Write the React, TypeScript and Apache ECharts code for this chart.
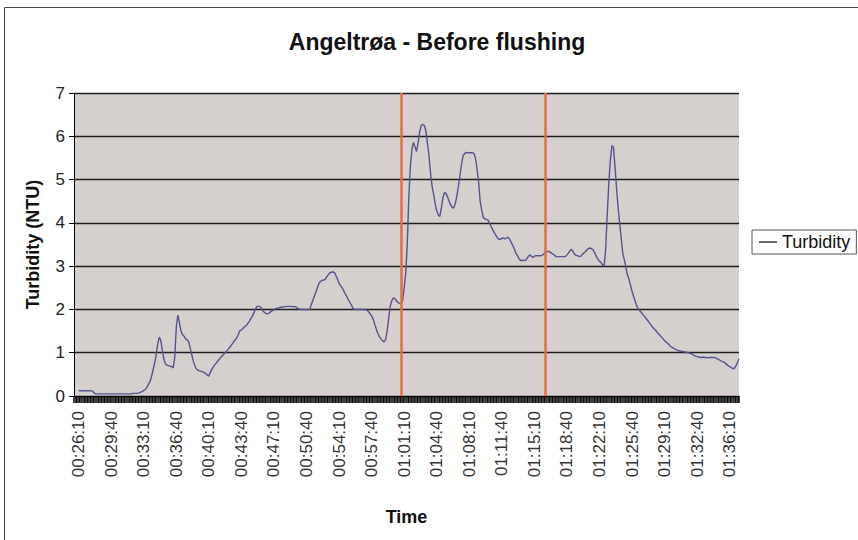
import React, { useEffect, useRef } from "react";
import * as echarts from "echarts";

const chartTitle = "Angeltrøa - Before flushing";
const seriesName = "Turbidity";
const startTime = "00:26:10";
const stepSeconds = 10;
const labelEvery = 21;
const flushMarkers = ["01:00:50", "01:16:20"];

const turbidity = [
  0.12, 0.12, 0.12, 0.12, 0.12, 0.12, 0.12, 0.12, 0.12, 0.11,
  0.07, 0.05, 0.05, 0.05, 0.05, 0.05, 0.05, 0.05, 0.05, 0.05,
  0.05, 0.05, 0.05, 0.05, 0.05, 0.05, 0.05, 0.05, 0.05, 0.05,
  0.05, 0.05, 0.05, 0.05, 0.05, 0.06, 0.06, 0.06, 0.06, 0.07,
  0.09, 0.10, 0.13, 0.15, 0.20, 0.27, 0.33, 0.45, 0.60, 0.75,
  0.95, 1.20, 1.36, 1.28, 1.05, 0.85, 0.74, 0.71, 0.70, 0.69,
  0.68, 0.65, 0.90, 1.60, 1.87, 1.70, 1.50, 1.42, 1.38, 1.32,
  1.30, 1.25, 1.10, 0.95, 0.80, 0.70, 0.62, 0.60, 0.58, 0.57,
  0.56, 0.54, 0.52, 0.48, 0.46, 0.55, 0.62, 0.68, 0.73, 0.77,
  0.82, 0.86, 0.90, 0.94, 0.98, 1.02, 1.06, 1.10, 1.15, 1.20,
  1.25, 1.30, 1.34, 1.42, 1.51, 1.53, 1.56, 1.60, 1.62, 1.67,
  1.72, 1.78, 1.84, 1.92, 2.00, 2.07, 2.07, 2.07, 2.02, 1.96,
  1.93, 1.90, 1.90, 1.92, 1.95, 1.97, 1.99, 2.02, 2.03, 2.03,
  2.05, 2.05, 2.06, 2.06, 2.07, 2.07, 2.07, 2.07, 2.06, 2.07,
  2.06, 2.03, 2.01, 2.00, 2.00, 2.00, 2.00, 2.00, 1.99, 2.00,
  2.10, 2.20, 2.30, 2.40, 2.50, 2.60, 2.65, 2.67, 2.68, 2.69,
  2.75, 2.80, 2.84, 2.86, 2.87, 2.85, 2.78, 2.70, 2.60, 2.55,
  2.50, 2.43, 2.36, 2.30, 2.22, 2.16, 2.10, 2.02, 2.00, 2.00,
  2.00, 2.00, 2.00, 2.00, 2.00, 2.00, 1.98, 1.95, 1.90, 1.85,
  1.78, 1.66, 1.55, 1.45, 1.37, 1.32, 1.28, 1.25, 1.30, 1.50,
  1.80, 2.07, 2.20, 2.27, 2.25, 2.20, 2.16, 2.14, 2.13, 2.20,
  2.50, 2.85, 3.50, 4.60, 5.30, 5.70, 5.86, 5.75, 5.65, 5.85,
  6.10, 6.25, 6.28, 6.25, 6.12, 5.85, 5.55, 5.15, 4.85, 4.65,
  4.45, 4.28, 4.18, 4.15, 4.35, 4.58, 4.70, 4.68, 4.60, 4.50,
  4.42, 4.35, 4.35, 4.45, 4.62, 4.85, 5.10, 5.35, 5.55, 5.60,
  5.63, 5.62, 5.62, 5.62, 5.62, 5.60, 5.50, 5.25, 4.95, 4.50,
  4.30, 4.12, 4.10, 4.08, 4.07, 4.00, 3.92, 3.85, 3.78, 3.72,
  3.66, 3.62, 3.62, 3.64, 3.65, 3.63, 3.65, 3.67, 3.62, 3.55,
  3.48, 3.40, 3.30, 3.25, 3.18, 3.13, 3.13, 3.14, 3.13, 3.16,
  3.22, 3.26, 3.23, 3.20, 3.23, 3.24, 3.24, 3.24, 3.24, 3.25,
  3.28, 3.32, 3.33, 3.34, 3.33, 3.30, 3.28, 3.25, 3.22, 3.22,
  3.22, 3.22, 3.22, 3.22, 3.22, 3.26, 3.30, 3.36, 3.39, 3.33,
  3.27, 3.25, 3.24, 3.22, 3.23, 3.27, 3.31, 3.34, 3.38, 3.41,
  3.42, 3.40, 3.37, 3.30, 3.22, 3.16, 3.12, 3.08, 3.03, 3.00,
  3.40, 4.20, 4.90, 5.45, 5.78, 5.75, 5.30, 4.80, 4.35, 4.00,
  3.65, 3.30, 3.15, 2.98, 2.80, 2.70, 2.56, 2.42, 2.30, 2.20,
  2.08, 2.02, 1.97, 1.93, 1.88, 1.84, 1.79, 1.75, 1.70, 1.65,
  1.60, 1.56, 1.53, 1.48, 1.44, 1.40, 1.36, 1.32, 1.28, 1.25,
  1.22, 1.18, 1.14, 1.12, 1.10, 1.08, 1.06, 1.05, 1.04, 1.03,
  1.03, 1.02, 1.01, 1.00, 0.99, 0.98, 0.96, 0.94, 0.92, 0.91,
  0.90, 0.89, 0.89, 0.90, 0.89, 0.89, 0.88, 0.89, 0.89, 0.89,
  0.89, 0.88, 0.86, 0.84, 0.82, 0.80, 0.79, 0.76, 0.73, 0.70,
  0.68, 0.66, 0.63, 0.64, 0.70, 0.77, 0.86,
];

function toSeconds(t: string): number {
  const [h, m, s] = t.split(":").map(Number);
  return h * 3600 + m * 60 + s;
}
function fmt(sec: number): string {
  const p = (n: number) => String(n).padStart(2, "0");
  return `${p(Math.floor(sec / 3600))}:${p(Math.floor((sec % 3600) / 60))}:${p(sec % 60)}`;
}
const t0 = toSeconds(startTime);
const categories = turbidity.map((_, i) => fmt(t0 + i * stepSeconds));

const FONT = "Liberation Sans, Arial, sans-serif";
const LINE_COLOR = "#53538f";

export default function App() {
  const ref = useRef<HTMLDivElement>(null);
  useEffect(() => {
    if (!ref.current) return;
    const chart = echarts.init(ref.current, undefined, { renderer: "svg" });
    chart.setOption({
      animation: false,
      backgroundColor: "#ffffff",
      textStyle: { fontFamily: FONT },
      title: {
        text: chartTitle,
        left: 432,
        top: 25,
        textAlign: "center",
        textStyle: { fontFamily: FONT, fontSize: 23, fontWeight: "bold", color: "#111" },
      },
      graphic: [
        {
          type: "rect",
          silent: true,
          shape: { x: 4.5, y: 7.5, width: 900, height: 600 },
          style: { fill: "none", stroke: "#444", lineWidth: 1 },
        },
      ],
      legend: {
        data: [seriesName],
        left: 752,
        top: 230,
        orient: "vertical",
        padding: [2, 6, 2, 7],
        borderColor: "#555",
        borderWidth: 1,
        icon: "rect",
        itemWidth: 18,
        itemHeight: 1.5,
        itemGap: 4,
        itemStyle: { color: "#333" },
        textStyle: { fontFamily: FONT, fontSize: 18, color: "#111", padding: [0, 0, 0, 0], lineHeight: 20 },
      },
      grid: { left: 74, top: 93, width: 665, height: 303, show: true, backgroundColor: "#D5D0CD", borderWidth: 0 },
      xAxis: {
        type: "category",
        data: categories,
        boundaryGap: false,
        min: -3,
        name: "Time",
        nameLocation: "middle",
        nameGap: 112,
        nameTextStyle: { fontFamily: FONT, fontSize: 18, fontWeight: "bold", color: "#111" },
        axisLine: { show: true, lineStyle: { color: "#000", width: 1 } },
        axisTick: { show: true, interval: 0, length: 7, lineStyle: { color: "#000", width: 1.5 } },
        axisLabel: {
          rotate: 90,
          margin: 15,
          fontFamily: FONT,
          fontSize: 17,
          color: "#333",
          interval: (index: number) => index >= 0 && index % labelEvery === 0,
        },
        splitLine: { show: false },
      },
      yAxis: {
        type: "value",
        min: 0,
        max: 7,
        interval: 1,
        name: "Turbidity (NTU)",
        nameLocation: "middle",
        nameGap: 32,
        nameTextStyle: { fontFamily: FONT, fontSize: 18, fontWeight: "bold", color: "#111" },
        axisLine: { show: true, lineStyle: { color: "#000", width: 1 } },
        axisTick: { show: true, length: 5, lineStyle: { color: "#000" } },
        axisLabel: { margin: 9, fontFamily: FONT, fontSize: 17, color: "#222" },
        splitLine: { show: true, lineStyle: { color: "#1e1e1e", width: 1.3 } },
      },
      series: [
        {
          name: seriesName,
          type: "line",
          data: turbidity,
          symbol: "none",
          lineStyle: { color: LINE_COLOR, width: 1.4 },
          itemStyle: { color: LINE_COLOR },
          markLine: {
            silent: true,
            symbol: ["none", "none"],
            label: { show: false },
            lineStyle: { color: "#EE6A44", width: 2.5, type: "solid" },
            data: flushMarkers.map((c) => ({ xAxis: c })),
          },
        },
      ],
    });
    return () => chart.dispose();
  }, []);
  return (
    <div
      ref={ref}
      style={{ position: "absolute", left: 0, top: 0, width: 858, height: 540 }}
    />
  );
}
